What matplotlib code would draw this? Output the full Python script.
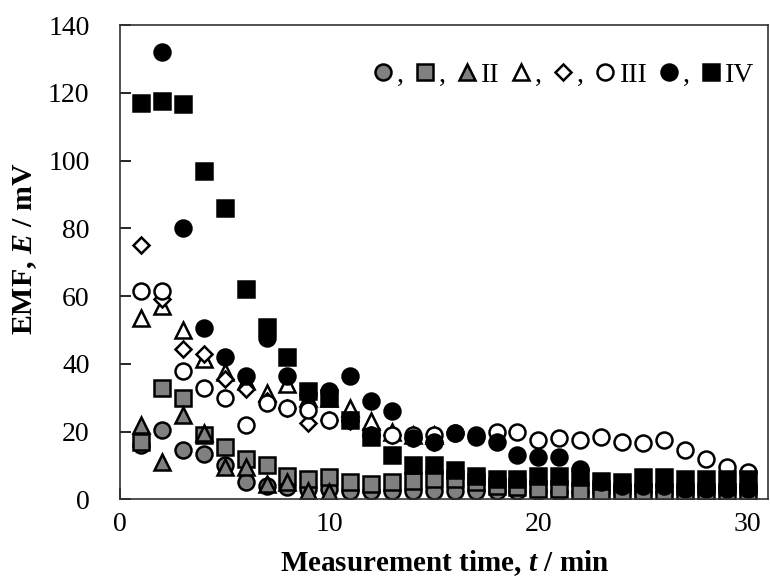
import numpy as np
import matplotlib
matplotlib.use('Agg')
import matplotlib.pyplot as plt

plt.rcParams['font.family'] = ['Liberation Serif', 'DejaVu Serif']
plt.rcParams['mathtext.fontset'] = 'custom'
plt.rcParams['mathtext.rm'] = 'Liberation Serif:bold'
plt.rcParams['mathtext.it'] = 'Liberation Serif:italic:bold'
plt.rcParams['mathtext.bf'] = 'Liberation Serif:bold'

# measurement time, min
t = list(range(1, 31))

# I
grey_circle = [16, 20.5, 14.5, 13.5, 10, 5, 4, 3.5, 3, 3, 2.5, 2.5, 2.5, 2.5, 2.5, 2.5, 2.5, 2.5, 2.5, 2.5,
               2, 2, 2, 2, 2, 2, 2, 2, 2, 2]
grey_square = [17, 33, 30, 19, 15.5, 12, 10, 7, 6, 6.5, 5, 4.5, 5, 5.5, 6, 6, 5, 4, 3.5, 3,
               3, 2.5, 2, 2, 2, 2, 2, 2, 2, 2]
# II
grey_tri = [22, 11, 25, 19.5, 9.5, 9.5, 4.5, 5, 2.5, 2]
open_tri = [53.5, 57, 50, 41.5, 37.5, 35, 31.5, 34, 30, 30, 27, 23, 20, 19, 19]
# III
open_diamond = [75, 59, 44.5, 43, 35.5, 32.5, 29, 27, 22.5, 23.5, 23, 19, 19, 18, 17]
open_circle = [61.5, 61.5, 38, 33, 30, 22, 28.5, 27, 26.5, 23.5, 23.5, 19, 19, 19, 19, 19.5, 19, 20, 20, 17.5,
               18, 17.5, 18.5, 17, 16.5, 17.5, 14.5, 12, 9.5, 8]
# IV
black_circle = [None, 132, 80, 50.5, 42, 36.5, 47.5, 36.5, 31, 32, 36.5, 29, 26, 18, 17, 19.5, 18.5, 17, 13, 12.5,
                12.5, 9, 5, 4, 4, 4, 3, 3, 3, 3]
black_square = [117, 117.5, 116.7, 97, 86, 62, 51, 42, 32, 30, 23.5, 18.5, 13, 10, 10, 8.5, 7, 6, 6, 7,
                7, 6.5, 5.5, 5, 6.5, 6.5, 6, 6, 6, 6]

legend_labels = [',', ',', 'II', ',', ',', 'III', ',', 'IV']

fig = plt.figure(figsize=(7.7, 5.86), dpi=100)
ax = fig.add_axes([0.156, 0.148, 0.842, 0.809])

ms = 11.5
ew = 1.8
grey = '#808080'

def pts(vals):
    x = [t[i] for i in range(len(vals)) if vals[i] is not None]
    y = [v for v in vals if v is not None]
    return x, y

h = []
x, y = pts(grey_circle)
h.append(ax.plot(x, y, 'o', ms=ms, mfc=grey, mec='k', mew=ew)[0])
x, y = pts(grey_square)
h.append(ax.plot(x, y, 's', ms=ms, mfc=grey, mec='k', mew=ew)[0])
x, y = pts(grey_tri)
h.append(ax.plot(x, y, '^', ms=ms, mfc=grey, mec='k', mew=ew)[0])
x, y = pts(open_tri)
h.append(ax.plot(x, y, '^', ms=ms, mfc='white', mec='k', mew=ew)[0])
x, y = pts(open_diamond)
h.append(ax.plot(x, y, 'D', ms=ms - 3, mfc='white', mec='k', mew=ew)[0])
x, y = pts(open_circle)
h.append(ax.plot(x, y, 'o', ms=ms, mfc='white', mec='k', mew=ew)[0])
x, y = pts(black_circle)
h.append(ax.plot(x, y, 'o', ms=ms, mfc='k', mec='k', mew=ew)[0])
x, y = pts(black_square)
h.append(ax.plot(x, y, 's', ms=ms, mfc='k', mec='k', mew=ew)[0])

ax.set_xlim(0, 31)
ax.set_ylim(0, 140)
ax.set_xticks([0, 10, 20, 30])
ax.set_yticks(range(0, 141, 20))
ax.tick_params(direction='in', length=8, width=1.2, labelsize=20)
ax.tick_params(axis='y', pad=22)
ax.tick_params(axis='x', pad=9)
for s in ax.spines.values():
    s.set_linewidth(1.2)
    s.set_color('#333333')

ax.set_xlabel(r'Measurement time, $t$ / min', fontsize=21, fontweight='bold')
ax.set_ylabel(r'EMF, $E$ / mV', fontsize=21.5, fontweight='bold')
ax.xaxis.label.set_va('center')
ax.yaxis.label.set_va('center')
ax.xaxis.set_label_coords(0.5, -0.135)
ax.yaxis.set_label_coords(-0.147, 0.528)

ax.legend(h, legend_labels, ncol=8, loc='center right', bbox_to_anchor=(0.978, 0.894),
          frameon=False, fontsize=20, handlelength=0.62, handletextpad=0.2,
          columnspacing=0.45, markerscale=1.0, borderpad=0, borderaxespad=0)

fig.savefig('out.png', dpi=100)
